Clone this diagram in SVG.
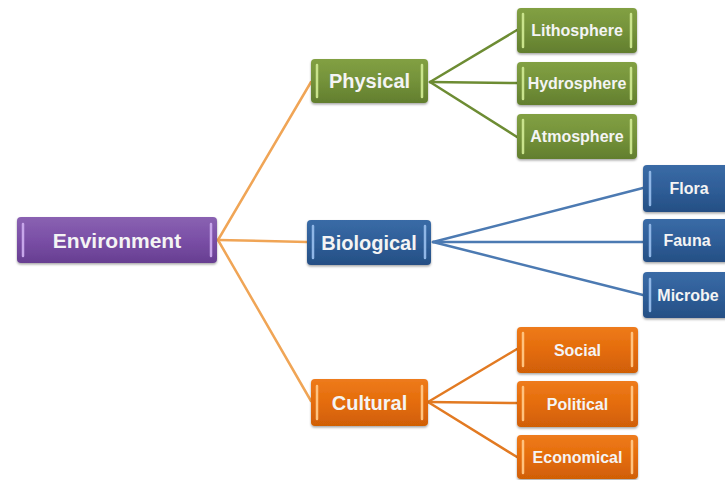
<svg xmlns="http://www.w3.org/2000/svg" width="725" height="480" viewBox="0 0 725 480">
<defs>
<linearGradient id="gP" x1="0" y1="0" x2="0" y2="1"><stop offset="0" stop-color="#8A62B2"/><stop offset="0.5" stop-color="#7A4FA6"/><stop offset="1" stop-color="#673E91"/></linearGradient>
<linearGradient id="gG" x1="0" y1="0" x2="0" y2="1"><stop offset="0" stop-color="#82A043"/><stop offset="0.5" stop-color="#74923A"/><stop offset="1" stop-color="#627E2E"/></linearGradient>
<linearGradient id="gB" x1="0" y1="0" x2="0" y2="1"><stop offset="0" stop-color="#3A6BA6"/><stop offset="0.5" stop-color="#2F5E98"/><stop offset="1" stop-color="#254F84"/></linearGradient>
<linearGradient id="gO" x1="0" y1="0" x2="0" y2="1"><stop offset="0" stop-color="#EE7B1C"/><stop offset="0.5" stop-color="#E46C0A"/><stop offset="1" stop-color="#D05F06"/></linearGradient>
<filter id="sh" x="-10%" y="-10%" width="120%" height="140%"><feDropShadow dx="0" dy="1.5" stdDeviation="1.2" flood-color="#000" flood-opacity="0.35"/></filter>
</defs>
<style>
.box{filter:url(#sh)}
.p{fill:url(#gP)} .g{fill:url(#gG)} .b{fill:url(#gB)} .o{fill:url(#gO)}
.bar{stroke-width:2.5;stroke-linecap:round}
.bp{stroke:#C7A6EA} .bg{stroke:#C9E38C} .bb{stroke:#8FB6E6} .bo{stroke:#FFC27E}
text{font-family:"Liberation Sans",Arial,sans-serif;font-weight:bold;fill:#F4F4F4;text-anchor:middle}
.big{font-size:20px}
.env{font-size:21px}
.sm{font-size:16px}
.c{fill:none;stroke-width:2.5;stroke-linecap:round}
.ce{stroke:#F0A556} .cg{stroke:#6D8C33} .cb{stroke:#4C7AB2} .co{stroke:#E27A22}
</style>
<rect width="725" height="480" fill="#FFFFFF"/>
<g id="connectors">
<line class="c ce" x1="218" y1="240" x2="311" y2="82"/>
<line class="c ce" x1="218" y1="240" x2="307" y2="242"/>
<line class="c ce" x1="218" y1="240" x2="311" y2="401"/>
<line class="c cg" x1="430" y1="82" x2="517" y2="30"/>
<line class="c cg" x1="430" y1="82" x2="517" y2="83"/>
<line class="c cg" x1="430" y1="82" x2="517" y2="137"/>
<line class="c cb" x1="433" y1="242" x2="643" y2="188"/>
<line class="c cb" x1="433" y1="242" x2="643" y2="242"/>
<line class="c cb" x1="433" y1="242" x2="643" y2="295"/>
<line class="c co" x1="428" y1="402" x2="517" y2="349"/>
<line class="c co" x1="428" y1="402" x2="517" y2="403"/>
<line class="c co" x1="428" y1="402" x2="517" y2="457"/>
</g>
<g id="environment">
<rect class="box p" x="17" y="217" width="200" height="46" rx="4"/>
<line class="bar bp" x1="23" y1="224" x2="23" y2="256"/><line class="bar bp" x1="211" y1="224" x2="211" y2="256"/>
<text class="env" x="117" y="248">Environment</text>
</g>
<g id="physical">
<rect class="box g" x="311" y="59" width="117" height="44" rx="4"/>
<line class="bar bg" x1="317" y1="65" x2="317" y2="97"/><line class="bar bg" x1="422" y1="65" x2="422" y2="97"/>
<text class="big" x="369.5" y="88">Physical</text>
</g>
<g id="biological">
<rect class="box b" x="307" y="220" width="124" height="45" rx="4"/>
<line class="bar bb" x1="313" y1="226" x2="313" y2="258"/><line class="bar bb" x1="425" y1="226" x2="425" y2="258"/>
<text class="big" x="369" y="250">Biological</text>
</g>
<g id="cultural">
<rect class="box o" x="311" y="379" width="117" height="47" rx="4"/>
<line class="bar bo" x1="317" y1="386" x2="317" y2="419"/><line class="bar bo" x1="422" y1="386" x2="422" y2="419"/>
<text class="big" x="369.5" y="410">Cultural</text>
</g>
<g id="lithosphere">
<rect class="box g" x="517" y="8" width="120" height="45" rx="4"/>
<line class="bar bg" x1="523" y1="14" x2="523" y2="47"/><line class="bar bg" x1="631" y1="14" x2="631" y2="47"/>
<text class="sm" x="577" y="36">Lithosphere</text>
</g>
<g id="hydrosphere">
<rect class="box g" x="517" y="62" width="120" height="43" rx="4"/>
<line class="bar bg" x1="523" y1="68" x2="523" y2="99"/><line class="bar bg" x1="631" y1="68" x2="631" y2="99"/>
<text class="sm" x="577" y="89">Hydrosphere</text>
</g>
<g id="atmosphere">
<rect class="box g" x="517" y="114" width="120" height="45" rx="4"/>
<line class="bar bg" x1="523" y1="120" x2="523" y2="153"/><line class="bar bg" x1="631" y1="120" x2="631" y2="153"/>
<text class="sm" x="577" y="142">Atmosphere</text>
</g>
<g id="flora">
<rect class="box b" x="643" y="165" width="92" height="47" rx="4"/>
<line class="bar bb" x1="650" y1="172" x2="650" y2="205"/>
<text class="sm" x="689" y="194">Flora</text>
</g>
<g id="fauna">
<rect class="box b" x="643" y="219" width="92" height="43" rx="4"/>
<line class="bar bb" x1="650" y1="225" x2="650" y2="256"/>
<text class="sm" x="687" y="246">Fauna</text>
</g>
<g id="microbe">
<rect class="box b" x="643" y="272" width="92" height="46" rx="4"/>
<line class="bar bb" x1="650" y1="279" x2="650" y2="311"/>
<text class="sm" x="688" y="301">Microbe</text>
</g>
<g id="social">
<rect class="box o" x="517" y="327" width="121" height="46" rx="4"/>
<line class="bar bo" x1="523" y1="333" x2="523" y2="366"/><line class="bar bo" x1="632" y1="333" x2="632" y2="366"/>
<text class="sm" x="577.5" y="356">Social</text>
</g>
<g id="political">
<rect class="box o" x="517" y="381" width="121" height="46" rx="4"/>
<line class="bar bo" x1="523" y1="387" x2="523" y2="420"/><line class="bar bo" x1="632" y1="387" x2="632" y2="420"/>
<text class="sm" x="577.5" y="410">Political</text>
</g>
<g id="economical">
<rect class="box o" x="517" y="435" width="121" height="44" rx="4"/>
<line class="bar bo" x1="523" y1="441" x2="523" y2="473"/><line class="bar bo" x1="632" y1="441" x2="632" y2="473"/>
<text class="sm" x="577.5" y="463">Economical</text>
</g>
</svg>
